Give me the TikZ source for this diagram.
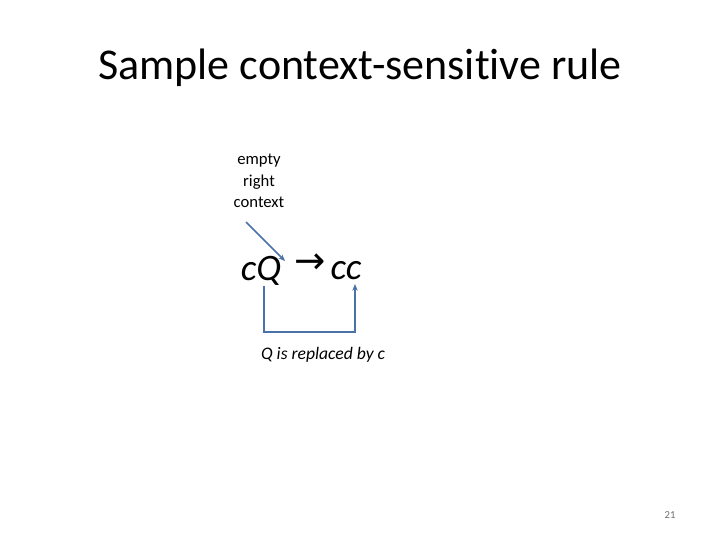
\documentclass[tikz,border=0pt]{standalone}
\usepackage{fontspec}
\setmainfont{Carlito}[Ligatures=NoCommon]
\newfontfamily\arrowfont{DejaVu Sans}
\usetikzlibrary{arrows.meta}

\begin{document}
\begin{tikzpicture}[x=0.75pt,y=0.75pt,yscale=-1,xscale=1]
%set diagram left start at 0, and has height of 540
\path (0,0) rectangle (720,540);

% Title
\draw (360,68) node [inner sep=0.75pt,font=\fontsize{33}{40}\selectfont] (title) {Sample context-sensitive rule};

% Text Node
\draw (259,181) node [inner sep=0.75pt,align=center,font=\fontsize{12.5}{16}\selectfont] (ctxlbl) {empty\\ right\\ context};
% Text Node
\draw (261,271) node [inner sep=0.75pt,font=\fontsize{28}{32}\selectfont\itshape] (lhs) {cQ};
% Text Node
\draw (310,264) node [inner sep=0.75pt,font=\fontsize{28}{30}\selectfont\arrowfont] (rarrow) {→};
% Text Node
\draw (346,271) node [inner sep=0.75pt,font=\fontsize{28}{32}\selectfont\itshape] (rhs) {cc};
% Text Node
\draw (323,355) node [inner sep=0.75pt,font=\fontsize{13.2}{15}\selectfont\itshape] (note) {Q is replaced by c};
% Text Node
\draw (670,515) node [inner sep=0.75pt,color={rgb, 255:red, 110; green, 110; blue, 110 },font=\fontsize{8}{10}\selectfont] (pageno) {21};

%Straight Lines
\coordinate (ctxend) at (246,222);
\coordinate (qtop) at (285,261);
\draw [color={rgb, 255:red, 74; green, 114; blue, 168 }, line width=1.1pt, -{Stealth[length=5pt,width=4pt]}] (ctxend) -- (qtop) ;
%Elbow connector
\coordinate (qbot) at (264,286);
\coordinate (ccbot) at (355,284);
\draw [color={rgb, 255:red, 74; green, 114; blue, 168 }, line width=1pt, -{Stealth[length=5pt,width=4pt]}] (qbot) -- (264,332) -| (ccbot) ;

\end{tikzpicture}
\end{document}
